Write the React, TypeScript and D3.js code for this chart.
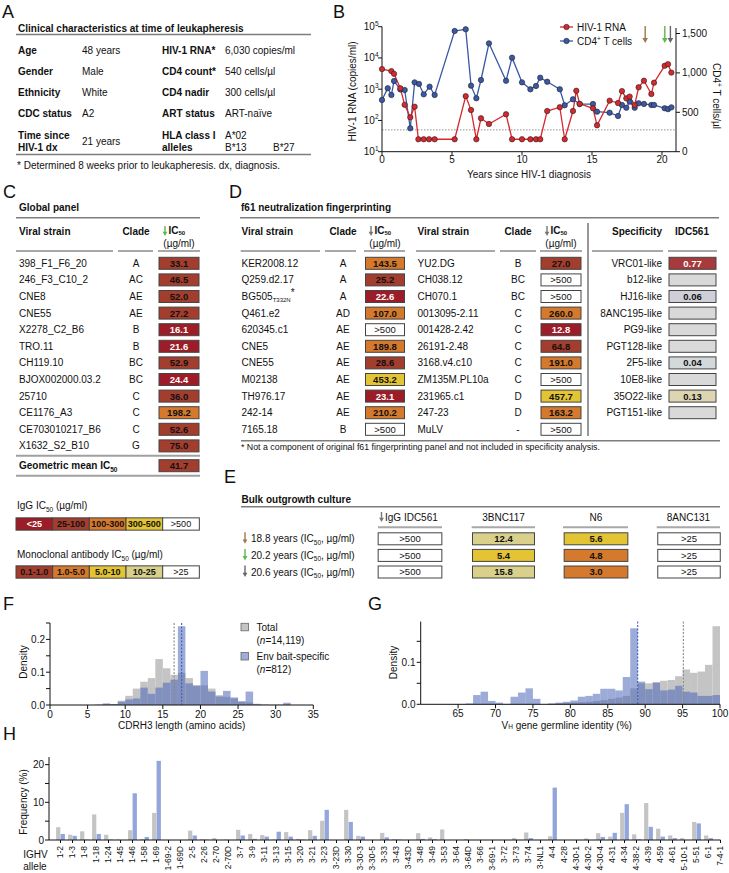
import React from "react";
import * as d3 from "d3";

const FONT = "Arial, 'Liberation Sans', Helvetica, sans-serif";

// ---------- Panel A ----------
const clinLabelsL = ["Age", "Gender", "Ethnicity", "CDC status"];
const clinValuesL = ["48 years", "Male", "White", "A2"];
const clinLabelsR = ["HIV-1 RNA*", "CD4 count*", "CD4 nadir", "ART status"];
const clinValuesR = ["6,030 copies/ml", "540 cells/µl", "300 cells/µl", "ART-naïve"];
const hlaAlleles = ["A*02", "B*13", "B*27"];

// ---------- Panel B ----------
const rnaYears = [0, 0.67, 0.86, 1.31, 1.62, 2.02, 2.33, 2.6, 2.98, 3.36, 3.76, 5.19, 5.98, 6.36, 6.74, 7.07, 7.64, 8.86, 9.29, 10.0, 10.6, 11.0, 11.3, 11.8, 12.7, 13.05, 13.64, 13.88, 14.12, 15.07, 15.36, 16.26, 16.86, 17.14, 17.45, 17.69, 18.05, 18.33, 18.71, 19.24, 19.43, 20.19, 20.43, 20.67];
const rnaCopies = [4400, 3800, 3100, 1070, 316, 126, 275, 25, 25, 25, 25, 25, 600, 215, 25, 117, 77, 158, 25, 25, 25, 25, 25, 200, 265, 25, 200, 890, 340, 245, 70, 430, 360, 870, 510, 580, 310, 1150, 1870, 700, 1620, 5600, 6300, 3400];
const cd4Years = [0, 0.41, 0.67, 0.86, 1.31, 1.62, 2.02, 2.33, 2.64, 2.98, 3.4, 3.76, 5.19, 5.98, 6.36, 6.74, 7.07, 7.64, 8.86, 9.29, 10.0, 10.6, 11.0, 11.3, 11.8, 12.7, 13.05, 13.64, 14.12, 15.07, 15.36, 16.26, 16.86, 17.14, 17.45, 17.69, 18.05, 18.33, 18.71, 19.24, 19.43, 20.19, 20.43, 20.67];
const cd4Counts = [656, 805, 720, 897, 790, 783, 297, 880, 860, 728, 825, 720, 1532, 1553, 838, 678, 910, 1375, 900, 1193, 880, 792, 834, 939, 888, 792, 589, 665, 605, 605, 508, 495, 453, 593, 558, 635, 558, 614, 606, 593, 593, 551, 540, 563];
const sampleYears = [18.8, 20.2, 20.6];
const rnaTicks = [10, 100, 1000, 10000, 100000];
const cd4Ticks = [0, 500, 1000, 1500];
const yearTicks = [0, 5, 10, 15, 20];
const detectionLimit = 50;

// ---------- Panel C ----------
const globalStrains = ["398_F1_F6_20", "246_F3_C10_2", "CNE8", "CNE55", "X2278_C2_B6", "TRO.11", "CH119.10", "BJOX002000.03.2", "25710", "CE1176_A3", "CE703010217_B6", "X1632_S2_B10"];
const globalClades = ["A", "AC", "AE", "AE", "B", "B", "BC", "BC", "C", "C", "C", "G"];
const globalIC50 = ["33.1", "46.5", "52.0", "27.2", "16.1", "21.6", "52.9", "24.4", "36.0", "198.2", "52.6", "75.0"];
const geoMeanIC50 = "41.7";
const iggLegend = ["<25", "25-100", "100-300", "300-500", ">500"];
const iggLegendRep = ["10", "50", "200", "400", ">500"];
const mabLegend = ["0.1-1.0", "1.0-5.0", "5.0-10", "10-25", ">25"];
const mabLegendRep = ["0.5", "2", "7", "15", ">25"];

// ---------- Panel D ----------
const f61StrainsA = ["KER2008.12", "Q259.d2.17", "BG505", "Q461.e2", "620345.c1", "CNE5", "CNE55", "M02138", "TH976.17", "242-14", "7165.18"];
const f61CladesA = ["A", "A", "A", "AD", "AE", "AE", "AE", "AE", "AE", "AE", "B"];
const f61IC50A = ["143.5", "25.2", "22.6", "107.0", ">500", "189.8", "28.6", "453.2", "23.1", "210.2", ">500"];
const f61StrainsB = ["YU2.DG", "CH038.12", "CH070.1", "0013095-2.11", "001428-2.42", "26191-2.48", "3168.v4.c10", "ZM135M.PL10a", "231965.c1", "247-23", "MuLV"];
const f61CladesB = ["B", "BC", "BC", "C", "C", "C", "C", "C", "D", "D", "-"];
const f61IC50B = ["27.0", ">500", ">500", "260.0", "12.8", "64.8", "191.0", ">500", "457.7", "163.2", ">500"];
const specificities = ["VRC01-like", "b12-like", "HJ16-like", "8ANC195-like", "PG9-like", "PGT128-like", "2F5-like", "10E8-like", "35O22-like", "PGT151-like"];
const idc561Scores = ["0.77", "", "0.06", "", "", "", "0.04", "", "0.13", ""];

// ---------- Panel E ----------
const outgrowthYears = ["18.8", "20.2", "20.6"];
const outgrowthAntibodies = ["IgG IDC561", "3BNC117", "N6", "8ANC131"];
const outIgG = [">500", ">500", ">500"];
const out3BNC117 = ["12.4", "5.4", "15.8"];
const outN6 = ["5.6", "4.8", "3.0"];
const out8ANC131 = [">25", ">25", ">25"];

// ---------- Panel F ----------
const cdrh3Length = [6, 7, 8, 9, 10, 11, 12, 13, 14, 15, 16, 17, 18, 19, 20, 21, 22, 23, 24, 25, 26, 27, 28, 29, 30, 31];
const cdrh3Total = [0.002, 0.002, 0.003, 0.013, 0.028, 0.05, 0.071, 0.082, 0.14, 0.112, 0.092, 0.098, 0.082, 0.061, 0.06, 0.05, 0.03, 0.025, 0.02, 0.012, 0.008, 0.004, 0.002, 0.001, 0.001, 0.001];
const cdrh3Env = [0, 0.005, 0.003, 0.01, 0.017, 0.02, 0.053, 0.034, 0.053, 0.068, 0.077, 0.24, 0.066, 0.058, 0.104, 0.041, 0.026, 0.043, 0.023, 0.01, 0.041, 0.002, 0, 0, 0, 0.007];
const cdrh3MeanTotal = 16.5;
const cdrh3MeanEnv = 17.5;
const fXTicks = [0, 5, 10, 15, 20, 25, 30, 35];
const fYTicks = [0, 0.05, 0.1, 0.15, 0.2, 0.25];

// ---------- Panel G ----------
const vhIdentity = [66, 67, 68, 69, 70, 71, 72, 73, 74, 75, 76, 77, 78, 79, 80, 81, 82, 83, 84, 85, 86, 87, 88, 89, 90, 91, 92, 93, 94, 95, 96, 97, 98, 99];
const vhTotal = [0, 0, 0, 0, 0, 0, 0, 0, 0, 0, 0, 0.001, 0.002, 0.003, 0.004, 0.005, 0.006, 0.008, 0.01, 0.013, 0.016, 0.02, 0.038, 0.05, 0.05, 0.052, 0.056, 0.058, 0.067, 0.083, 0.075, 0.078, 0.094, 0.186];
const vhEnv = [0.002, 0.022, 0.03, 0.008, 0.004, 0.001, 0.018, 0.028, 0.038, 0.013, 0, 0.002, 0.004, 0.006, 0.009, 0.018, 0.02, 0.025, 0.037, 0.037, 0.033, 0.065, 0.181, 0.054, 0.036, 0.052, 0.033, 0.035, 0.044, 0.03, 0.028, 0.02, 0.02, 0.022];
const vhMeanTotal = 95.1;
const vhMeanEnv = 89.0;
const gXTicks = [65, 70, 75, 80, 85, 90, 95, 100];
const gYTicks = [0, 0.05, 0.1, 0.15];

// ---------- Panel H ----------
const ighvAlleles = ["1-2", "1-3", "1-8", "1-18", "1-24", "1-45", "1-46", "1-58", "1-69", "1-69-2", "1-69D", "2-5", "2-26", "2-70", "2-70D", "3-7", "3-9", "3-11", "3-13", "3-15", "3-20", "3-21", "3-23", "3-23D", "3-30", "3-30-3", "3-30-5", "3-33", "3-43", "3-43D", "3-48", "3-49", "3-53", "3-64", "3-64D", "3-66", "3-69-1", "3-72", "3-73", "3-74", "3-NL1", "4-4", "4-28", "4-30-1", "4-30-2", "4-30-4", "4-31", "4-34", "4-38-2", "4-39", "4-59", "4-61", "5-10-1", "5-51", "6-1", "7-4-1"];
const ighvTotal = [3.4, 1.4, 2.3, 6.8, 1.4, 0.1, 2.6, 0.2, 7.2, 0, 0, 2.5, 0.2, 0.5, 0.1, 2.7, 1.6, 1.3, 0.1, 2.1, 0.3, 2.6, 5.1, 0, 8.0, 1.1, 0, 1.9, 0.2, 0, 1.8, 0.7, 2.8, 0, 0.2, 0, 0, 0, 0.5, 2.0, 0, 1.0, 0, 0, 0.4, 1.8, 0.9, 7.2, 1.5, 9.8, 3.0, 1.2, 0.5, 4.8, 1.2, 0];
const ighvEnv = [1.6, 1.1, 0.1, 1.6, 0.1, 0, 12.4, 0.8, 21.0, 0, 0, 1.2, 0.1, 0, 0, 1.2, 0.3, 0.9, 2.2, 0.9, 0.1, 1.1, 8.0, 0, 4.8, 0.9, 0, 0.7, 0.1, 0, 0.3, 0.2, 0, 0, 0, 0, 0, 0, 0, 0.5, 0, 13.9, 0, 0, 0, 0.8, 1.9, 9.5, 0.2, 3.5, 0.9, 0.5, 0, 4.4, 0.5, 0];
const hYTicks = [0, 5, 10, 15, 20];

// ---------- colours ----------
const DR = "#9c1c27";
const BR = "#a33d2d";
const OR = "#d5792d";
const YE = "#e3c434";
const KH = "#d8d08b";
const RED = "#d6282d";
const BLUE = "#3a58a6";
const GRAYBAR = "#c4c4c4";
const BLUEBAR = "#4a66b8";
const LINE = "#7d7d7d";
const ARROW_COLORS = ["#9c7a45", "#5cb847", "#666666"];

function iggColor(v: string) {
  if (v.startsWith(">")) return "#ffffff";
  const n = parseFloat(v);
  if (n < 25) return DR;
  if (n < 100) return BR;
  if (n < 300) return OR;
  return YE;
}
function mabColor(v: string) {
  if (v.startsWith(">")) return "#ffffff";
  const n = parseFloat(v);
  if (n < 1) return BR;
  if (n < 5) return OR;
  if (n < 10) return YE;
  return KH;
}
function specColor(v: string) {
  if (v === "") return "#d9d9d9";
  const n = parseFloat(v);
  if (n >= 0.5) return "#a63a3c";
  if (n >= 0.1) return "#ddd5b2";
  if (n >= 0.05) return "#cfcfda";
  return "#d3d9db";
}
function txtColor(fill: string) {
  return fill === DR || fill === "#a63a3c" ? "#ffffff" : "#111111";
}

function Box(props: { cx: number; cy: number; w: number; h?: number; fill: string; text: string; bold?: boolean; fs?: number }) {
  const { cx, cy, w, fill, text } = props;
  const h = props.h ?? 12;
  const bold = props.bold ?? !text.startsWith(">");
  return (
    <g>
      <rect x={cx - w / 2} y={cy - h / 2} width={w} height={h} fill={fill} stroke="#444" strokeWidth={1} />
      <text x={cx} y={cy + 3.4} textAnchor="middle" fontSize={props.fs ?? 9.5} fontWeight={bold ? "bold" : "normal"} fill={txtColor(fill)}>
        {text}
      </text>
    </g>
  );
}

function Arrow(props: { x: number; y1: number; y2: number; color: string; head?: number }) {
  const { x, y1, y2, color } = props;
  const hd = props.head ?? 3;
  return (
    <g>
      <line x1={x} x2={x} y1={y1} y2={y2 - hd * 1.5} stroke={color} strokeWidth={1.4} />
      <path d={`M${x - hd},${y2 - hd * 1.8} L${x + hd},${y2 - hd * 1.8} L${x},${y2} Z`} fill={color} />
    </g>
  );
}

function IC50Header(props: { cx: number; arrowColor: string }) {
  const { cx, arrowColor } = props;
  return (
    <g>
      <Arrow x={cx - 14} y1={226} y2={236} color={arrowColor} head={2.4} />
      <text x={cx - 10.5} y={233.5} fontSize={10} fontWeight="bold">
        IC<tspan fontSize={6} dy={1.8}>50</tspan>
      </text>
      <text x={cx} y={246.5} textAnchor="middle" fontSize={10}>
        (µg/ml)
      </text>
    </g>
  );
}

function HLine(props: { x1: number; x2: number; y: number; w?: number; c?: string }) {
  return <line x1={props.x1} x2={props.x2} y1={props.y} y2={props.y} stroke={props.c ?? LINE} strokeWidth={props.w ?? 1.6} />;
}

export default function App() {
  // ---------- B scales ----------
  const xB = d3.scaleLinear().domain([0, 21]).range([382, 676]);
  const yRna = d3.scaleLog().domain([10, 1e5]).range([151.7, 26.7]);
  const yCd4 = d3.scaleLinear().domain([0, 1500]).range([151.7, 33.5]);
  const rnaPath = d3.line<number>().x((_, i) => xB(rnaYears[i])).y((d) => yRna(d))(rnaCopies) || "";
  const cd4Path = d3.line<number>().x((_, i) => xB(cd4Years[i])).y((d) => yCd4(d))(cd4Counts) || "";
  const supDigits = (v: number) => String(Math.round(Math.log10(v)));

  // ---------- F scales ----------
  const xF = d3.scaleLinear().domain([0, 35]).range([50, 313.3]);
  const yF = d3.scaleLinear().domain([0, 0.25]).range([705, 623]);
  // ---------- G scales ----------
  const xG = d3.scaleLinear().domain([60, 100]).range([420.7, 720]);
  const yG = d3.scaleLinear().domain([0, 0.197]).range([704.3, 621.6]);
  // ---------- H scales ----------
  const xH = d3.scalePoint<string>().domain(ighvAlleles).range([60.5, 720.5]);
  const yH = d3.scaleLinear().domain([0, 22]).range([840, 757.1]);

  const rowC = (i: number) => 263.3 + 16.6 * i;

  return (
    <svg width={729} height={873} style={{ position: "absolute", left: 0, top: 0, background: "#fff" }} fontFamily={FONT} fontSize={10} fill="#111">
      <rect x={0} y={0} width={729} height={873} fill="#fff" />
      {/* ================= Panel A ================= */}
      <text x={2} y={18} fontSize={18}>A</text>
      <text x={18} y={31.5} fontWeight="bold">Clinical characteristics at time of leukapheresis</text>
      <HLine x1={16} x2={311} y={34.5} />
      {clinLabelsL.map((l, i) => (
        <g key={"al" + i}>
          <text x={18} y={53.5 + 21 * i} fontWeight="bold">{l}</text>
          <text x={82} y={53.5 + 21 * i}>{clinValuesL[i]}</text>
          <text x={162} y={53.5 + 21 * i} fontWeight="bold">{clinLabelsR[i]}</text>
          <text x={225} y={53.5 + 21 * i}>{clinValuesR[i]}</text>
        </g>
      ))}
      <text x={18} y={139} fontWeight="bold">Time since</text>
      <text x={18} y={151} fontWeight="bold">HIV-1 dx</text>
      <text x={82} y={145}>21 years</text>
      <text x={162} y={139} fontWeight="bold">HLA class I</text>
      <text x={162} y={151} fontWeight="bold">alleles</text>
      <text x={225} y={139}>{hlaAlleles[0]}</text>
      <text x={225} y={151}>{hlaAlleles[1]}</text>
      <text x={273} y={151}>{hlaAlleles[2]}</text>
      <HLine x1={16} x2={311} y={154.5} />
      <text x={17} y={168.5}>* Determined 8 weeks prior to leukapheresis. dx, diagnosis.</text>

      {/* ================= Panel B ================= */}
      <text x={333} y={18} fontSize={18}>B</text>
      <line x1={xB(0)} x2={xB(21)} y1={yRna(detectionLimit)} y2={yRna(detectionLimit)} stroke="#888" strokeWidth={0.9} strokeDasharray="1.5,1.5" />
      {/* left axis */}
      <line x1={382} x2={382} y1={151.7} y2={26.7} stroke="#111" strokeWidth={1} />
      {rnaTicks.map((t) => (
        <g key={"rt" + t}>
          <line x1={378} x2={382} y1={yRna(t)} y2={yRna(t)} stroke="#111" />
          <text x={378.5} y={yRna(t) + 3.5} textAnchor="end" fontSize={10}>
            10<tspan fontSize={6.5} dy={-4.5}>{supDigits(t)}</tspan>
          </text>
        </g>
      ))}
      {/* right axis */}
      <line x1={676} x2={676} y1={151.7} y2={28} stroke="#111" strokeWidth={1} />
      {cd4Ticks.map((t) => (
        <g key={"ct" + t}>
          <line x1={676} x2={680} y1={yCd4(t)} y2={yCd4(t)} stroke="#111" />
          <text x={682} y={yCd4(t) + 3.5} fontSize={10}>{d3.format(",")(t)}</text>
        </g>
      ))}
      {/* x axis */}
      <line x1={382} x2={676} y1={151.7} y2={151.7} stroke="#111" strokeWidth={1} />
      {yearTicks.map((t) => (
        <g key={"yt" + t}>
          <line x1={xB(t)} x2={xB(t)} y1={151.7} y2={155.5} stroke="#111" />
          <text x={xB(t)} y={163} textAnchor="middle" fontSize={10}>{t}</text>
        </g>
      ))}
      <text x={xB(10.5)} y={178} textAnchor="middle" fontSize={10}>Years since HIV-1 diagnosis</text>
      <text transform="translate(355.5,91.5) rotate(-90)" textAnchor="middle" fontSize={10}>HIV-1 RNA (copies/ml)</text>
      <text transform="translate(713,96) rotate(90)" textAnchor="middle" fontSize={10}>
        CD4<tspan fontSize={6.5} dy={-4}>+</tspan><tspan dy={4}> T cells/µl</tspan>
      </text>
      {/* series */}
      <path d={cd4Path} fill="none" stroke={BLUE} strokeWidth={1.3} />
      <path d={rnaPath} fill="none" stroke={RED} strokeWidth={1.3} />
      {cd4Counts.map((v, i) => (
        <circle key={"cd" + i} cx={xB(cd4Years[i])} cy={yCd4(v)} r={2.7} fill={BLUE} stroke="#222" strokeWidth={0.6} />
      ))}
      {rnaCopies.map((v, i) => (
        <circle key={"rn" + i} cx={xB(rnaYears[i])} cy={yRna(v)} r={2.7} fill={RED} stroke="#222" strokeWidth={0.6} />
      ))}
      {/* legend */}
      <line x1={560} x2={573} y1={27} y2={27} stroke={RED} strokeWidth={1.3} />
      <circle cx={566.5} cy={27} r={2.7} fill={RED} stroke="#222" strokeWidth={0.6} />
      <text x={577} y={30.5} fontSize={10}>HIV-1 RNA</text>
      <line x1={560} x2={573} y1={41} y2={41} stroke={BLUE} strokeWidth={1.3} />
      <circle cx={566.5} cy={41} r={2.7} fill={BLUE} stroke="#222" strokeWidth={0.6} />
      <text x={577} y={44.5} fontSize={10}>
        CD4<tspan fontSize={6.5} dy={-4}>+</tspan><tspan dy={4}> T cells</tspan>
      </text>
      {sampleYears.map((y, i) => (
        <Arrow key={"sa" + i} x={xB(y)} y1={26} y2={43} color={ARROW_COLORS[i]} head={2.8} />
      ))}

      {/* ================= Panel C ================= */}
      <text x={3} y={198} fontSize={18}>C</text>
      <text x={19} y={211} fontWeight="bold">Global panel</text>
      <HLine x1={16} x2={200} y={217.7} />
      <text x={19} y={235} fontWeight="bold">Viral strain</text>
      <text x={136} y={235} textAnchor="middle" fontWeight="bold">Clade</text>
      <IC50Header cx={179} arrowColor="#5cb847" />
      <HLine x1={16} x2={113} y={251} w={2} c="#a8a8a8" />
      <HLine x1={118} x2={153} y={251} w={2} c="#a8a8a8" />
      <HLine x1={158} x2={200} y={251} w={2} c="#a8a8a8" />
      {globalStrains.map((s, i) => (
        <g key={"gs" + i}>
          <text x={19} y={rowC(i) + 3.5}>{s}</text>
          <text x={136} y={rowC(i) + 3.5} textAnchor="middle">{globalClades[i]}</text>
          <Box cx={179} cy={rowC(i)} w={40} fill={iggColor(globalIC50[i])} text={globalIC50[i]} />
        </g>
      ))}
      <HLine x1={16} x2={200} y={455.7} w={2} c="#a0a0a0" />
      <text x={19} y={469.3} fontWeight="bold">
        Geometric mean IC<tspan fontSize={6.5} dy={2.5}>50</tspan>
      </text>
      <Box cx={179} cy={465.7} w={40} fill={iggColor(geoMeanIC50)} text={geoMeanIC50} />
      <HLine x1={16} x2={200} y={475.7} w={2} c="#a0a0a0" />

      {/* legends */}
      <text x={17} y={509}>
        IgG IC<tspan fontSize={6.5} dy={2.5}>50</tspan><tspan dy={-2.5}> (µg/ml)</tspan>
      </text>
      {iggLegend.map((l, i) => (
        <Box key={"il" + i} cx={16 + 36.67 * (i + 0.5)} cy={524} w={36.67} h={12.3} fill={iggColor(iggLegendRep[i])} text={l} fs={9} />
      ))}
      <text x={17} y={558}>
        Monoclonal antibody IC<tspan fontSize={6.5} dy={2.5}>50</tspan><tspan dy={-2.5}> (µg/ml)</tspan>
      </text>
      {mabLegend.map((l, i) => (
        <Box key={"ml" + i} cx={16 + 36.67 * (i + 0.5)} cy={572} w={36.67} h={12.3} fill={mabColor(mabLegendRep[i])} text={l} fs={9} />
      ))}

      {/* ================= Panel D ================= */}
      <text x={229} y={198} fontSize={18}>D</text>
      <text x={241} y={211} fontWeight="bold">f61 neutralization fingerprinting</text>
      <HLine x1={240} x2={719} y={217.7} />
      <line x1={588} x2={588} y1={223} y2={436} stroke="#333" strokeWidth={1} />
      <text x={241.5} y={235} fontWeight="bold">Viral strain</text>
      <text x={343} y={235} textAnchor="middle" fontWeight="bold">Clade</text>
      <IC50Header cx={385} arrowColor="#777" />
      <text x={417.5} y={235} fontWeight="bold">Viral strain</text>
      <text x={518} y={235} textAnchor="middle" fontWeight="bold">Clade</text>
      <IC50Header cx={561} arrowColor="#777" />
      <text x={662} y={235} textAnchor="end" fontWeight="bold">Specificity</text>
      <text x={692} y={235} textAnchor="middle" fontWeight="bold">IDC561</text>
      {[[240.7, 320], [325, 356], [364, 405], [416, 495], [500, 536], [540, 582], [592, 663], [668, 717]].map((s, i) => (
        <HLine key={"dl" + i} x1={s[0]} x2={s[1]} y={251} w={2} c="#a8a8a8" />
      ))}
      {f61StrainsA.map((s, i) => (
        <g key={"fa" + i}>
          {s === "BG505" ? (
            <text x={241.5} y={rowC(i) + 3.5}>
              BG505<tspan fontSize={6} dy={2}>T332N</tspan><tspan dy={-6}>*</tspan>
            </text>
          ) : (
            <text x={241.5} y={rowC(i) + 3.5}>{s}</text>
          )}
          <text x={343} y={rowC(i) + 3.5} textAnchor="middle">{f61CladesA[i]}</text>
          <Box cx={385} cy={rowC(i)} w={39} fill={iggColor(f61IC50A[i])} text={f61IC50A[i]} />
          <text x={417.5} y={rowC(i) + 3.5}>{f61StrainsB[i]}</text>
          <text x={518} y={rowC(i) + 3.5} textAnchor="middle">{f61CladesB[i]}</text>
          <Box cx={561} cy={rowC(i)} w={40} fill={iggColor(f61IC50B[i])} text={f61IC50B[i]} />
        </g>
      ))}
      {specificities.map((s, i) => (
        <g key={"sp" + i}>
          <text x={662} y={rowC(i) + 3.5} textAnchor="end">{s}</text>
          <Box cx={692.5} cy={rowC(i)} w={47} fill={specColor(idc561Scores[i])} text={idc561Scores[i]} />
        </g>
      ))}
      <HLine x1={241} x2={720} y={440.7} />
      <text x={241} y={450} fontSize={8.8}>* Not a component of original f61 fingerprinting panel and not included in specificity analysis.</text>

      {/* ================= Panel E ================= */}
      <text x={224} y={483} fontSize={18}>E</text>
      <text x={241.5} y={502.5} fontWeight="bold">Bulk outgrowth culture</text>
      <HLine x1={241} x2={720} y={506.7} />
      {outgrowthAntibodies.map((a, i) => {
        const cx = [410, 503.5, 596, 688.5][i];
        return (
          <g key={"oa" + i}>
            {i === 0 ? (
              <g>
                <Arrow x={381.5} y1={512} y2={522} color="#777" head={2.4} />
                <text x={385} y={521}>{a}</text>
              </g>
            ) : (
              <text x={cx} y={521} textAnchor="middle">{a}</text>
            )}
          </g>
        );
      })}
      {[[378, 442], [471.7, 535], [563, 628], [656.7, 720]].map((s, i) => (
        <HLine key={"el" + i} x1={s[0]} x2={s[1]} y={527.3} w={2} c="#a8a8a8" />
      ))}
      {outgrowthYears.map((y, i) => {
        const cy = 538.8 + 16.6 * i;
        return (
          <g key={"oy" + i}>
            <Arrow x={245} y1={cy - 6.5} y2={cy + 5} color={ARROW_COLORS[i]} head={2.4} />
            <text x={251} y={cy + 3.5}>
              {y} years (IC<tspan fontSize={6.5} dy={2.5}>50</tspan><tspan dy={-2.5}>, µg/ml)</tspan>
            </text>
            <Box cx={410} cy={cy} w={63.7} fill={iggColor(outIgG[i])} text={outIgG[i]} />
            <Box cx={503.5} cy={cy} w={62} fill={mabColor(out3BNC117[i])} text={out3BNC117[i]} />
            <Box cx={596} cy={cy} w={63.7} fill={mabColor(outN6[i])} text={outN6[i]} />
            <Box cx={689} cy={cy} w={62.5} fill={mabColor(out8ANC131[i])} text={out8ANC131[i]} />
          </g>
        );
      })}

      {/* ================= Panel F ================= */}
      <text x={3} y={610} fontSize={18}>F</text>
      {cdrh3Length.map((k, i) => (
        <rect key={"ft" + i} x={xF(k)} width={xF(k + 1) - xF(k)} y={yF(cdrh3Total[i])} height={yF(0) - yF(cdrh3Total[i])} fill={GRAYBAR} />
      ))}
      {cdrh3Length.map((k, i) => (
        <rect key={"fe" + i} x={xF(k)} width={xF(k + 1) - xF(k)} y={yF(cdrh3Env[i])} height={yF(0) - yF(cdrh3Env[i])} fill={BLUEBAR} fillOpacity={0.55} />
      ))}
      <line x1={xF(cdrh3MeanTotal)} x2={xF(cdrh3MeanTotal)} y1={yF(0.25)} y2={yF(0)} stroke="#888" strokeWidth={1.1} strokeDasharray="2,1.5" />
      <line x1={xF(cdrh3MeanEnv)} x2={xF(cdrh3MeanEnv)} y1={yF(0.25)} y2={yF(0)} stroke="#3b5fc0" strokeWidth={1.1} strokeDasharray="2,1.5" />
      <line x1={50} x2={50} y1={yF(0)} y2={yF(0.25)} stroke="#111" />
      {fYTicks.map((t, i) => (
        <g key={"fy" + i}>
          <line x1={46} x2={50} y1={yF(t)} y2={yF(t)} stroke="#111" />
          {i % 2 === 0 && i < 5 ? <text x={45} y={yF(t) + 3.5} textAnchor="end">{t.toFixed(1)}</text> : null}
        </g>
      ))}
      <line x1={50} x2={xF(35)} y1={705} y2={705} stroke="#111" />
      {fXTicks.map((t) => (
        <g key={"fx" + t}>
          <line x1={xF(t)} x2={xF(t)} y1={705} y2={709} stroke="#111" />
          <text x={xF(t)} y={717.5} textAnchor="middle">{t}</text>
        </g>
      ))}
      <text x={181.7} y={728.5} textAnchor="middle">CDRH3 length (amino acids)</text>
      <text transform="translate(27,662) rotate(-90)" textAnchor="middle">Density</text>
      {/* legend */}
      <rect x={241} y={623.3} width={7.5} height={7.5} fill={GRAYBAR} stroke="#666" strokeWidth={0.8} />
      <text x={256.5} y={631}>Total</text>
      <text x={256.5} y={643.5}>(<tspan fontStyle="italic">n</tspan>=14,119)</text>
      <rect x={241} y={652.5} width={7.5} height={7.5} fill="#9eaedb" stroke="#666" strokeWidth={0.8} />
      <text x={256.5} y={660.3}>Env bait-specific</text>
      <text x={256.5} y={672.5}>(<tspan fontStyle="italic">n</tspan>=812)</text>

      {/* ================= Panel G ================= */}
      <text x={368} y={610} fontSize={18}>G</text>
      {vhIdentity.map((k, i) => (
        <rect key={"gt" + i} x={xG(k)} width={xG(k + 1) - xG(k)} y={yG(vhTotal[i])} height={yG(0) - yG(vhTotal[i])} fill={GRAYBAR} />
      ))}
      {vhIdentity.map((k, i) => (
        <rect key={"ge" + i} x={xG(k)} width={xG(k + 1) - xG(k)} y={yG(vhEnv[i])} height={yG(0) - yG(vhEnv[i])} fill={BLUEBAR} fillOpacity={0.55} />
      ))}
      <line x1={xG(vhMeanTotal)} x2={xG(vhMeanTotal)} y1={yG(0.197)} y2={yG(0)} stroke="#888" strokeWidth={1.1} strokeDasharray="2,1.5" />
      <line x1={xG(vhMeanEnv)} x2={xG(vhMeanEnv)} y1={yG(0.197)} y2={yG(0)} stroke="#3b5fc0" strokeWidth={1.1} strokeDasharray="2,1.5" />
      <line x1={420.7} x2={420.7} y1={yG(0)} y2={yG(0.197)} stroke="#111" />
      {gYTicks.map((t, i) => (
        <g key={"gy" + i}>
          <line x1={416.7} x2={420.7} y1={yG(t)} y2={yG(t)} stroke="#111" />
          {i % 2 === 0 ? <text x={415.5} y={yG(t) + 3.5} textAnchor="end">{t.toFixed(1)}</text> : null}
        </g>
      ))}
      <line x1={420.7} x2={720} y1={704.3} y2={704.3} stroke="#111" />
      {gXTicks.map((t) => (
        <g key={"gx" + t}>
          <line x1={xG(t)} x2={xG(t)} y1={704.3} y2={708.3} stroke="#111" />
          <text x={xG(t)} y={717} textAnchor="middle">{t}</text>
        </g>
      ))}
      <text x={566.7} y={728.5} textAnchor="middle">
        V<tspan fontSize={6.5}>H</tspan> gene germline identity (%)
      </text>
      <text transform="translate(397,662.5) rotate(-90)" textAnchor="middle">Density</text>

      {/* ================= Panel H ================= */}
      <text x={3} y={740} fontSize={18}>H</text>
      {ighvAlleles.map((a, i) => {
        const cx = xH(a) as number;
        return (
          <g key={"hb" + i}>
            <rect x={cx - 4.4} width={4.2} y={yH(ighvTotal[i])} height={yH(0) - yH(ighvTotal[i])} fill={GRAYBAR} />
            <rect x={cx + 0.1} width={4.3} y={yH(ighvEnv[i])} height={yH(0) - yH(ighvEnv[i])} fill="#92a6dc" />
            <line x1={cx} x2={cx} y1={840} y2={843} stroke="#111" />
            <text transform={`translate(${cx},846) rotate(-90)`} textAnchor="end" dy="0.33em" fontSize={8.5}>{a}</text>
          </g>
        );
      })}
      <line x1={49} x2={49} y1={840} y2={yH(22)} stroke="#111" />
      {hYTicks.map((t, i) => (
        <g key={"hy" + i}>
          <line x1={45} x2={49} y1={yH(t)} y2={yH(t)} stroke="#111" />
          {i % 2 === 0 ? <text x={44} y={yH(t) + 3.5} textAnchor="end">{t}</text> : null}
        </g>
      ))}
      <line x1={49} x2={720.5} y1={840} y2={840} stroke="#111" />
      <text transform="translate(27,802) rotate(-90)" textAnchor="middle">Frequency (%)</text>
      <text x={35.5} y={857.5} textAnchor="middle">IGHV</text>
      <text x={35} y={869.5} textAnchor="middle">allele</text>
    </svg>
  );
}
